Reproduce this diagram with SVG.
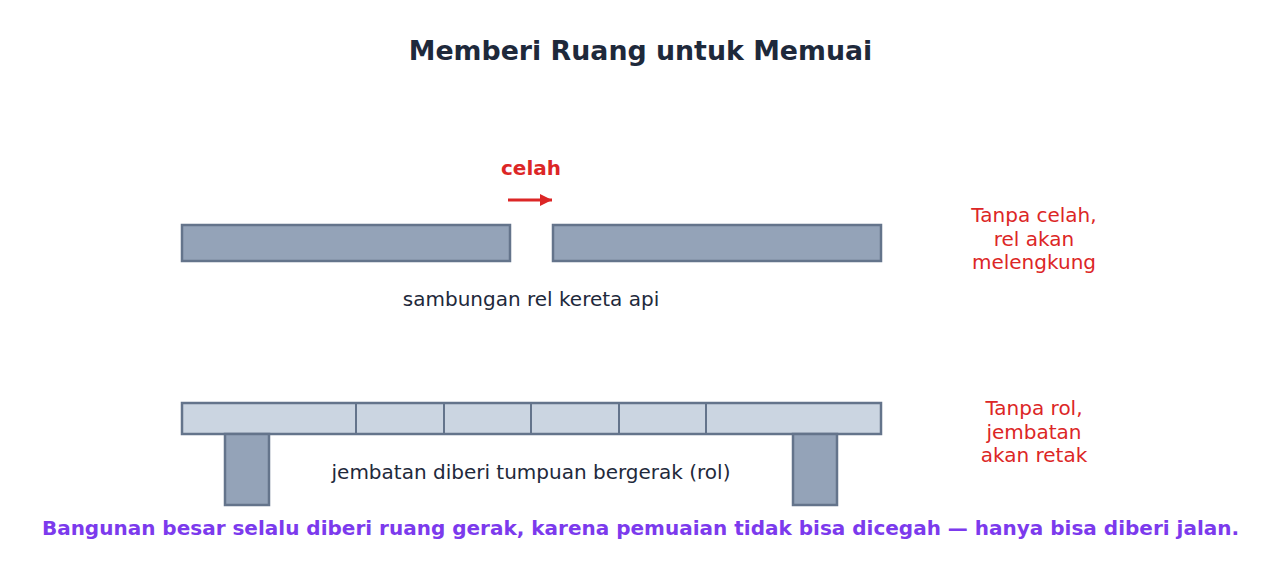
<svg xmlns="http://www.w3.org/2000/svg" width="1281" height="583" viewBox="0 0 1281 583">
<style>
text{font-family:"DejaVu Sans","Liberation Sans",sans-serif;}
.title{font-size:26.8px;font-weight:bold;fill:#1e293b;text-anchor:middle;}
.lbl{font-size:20px;fill:#1e293b;text-anchor:middle;}
.warn{font-size:20px;fill:#dc2626;text-anchor:middle;}
.gap{font-size:20px;font-weight:bold;fill:#dc2626;text-anchor:middle;}
.foot{font-size:20px;font-weight:bold;fill:#7c3aed;text-anchor:middle;}
.rail{fill:#94a3b8;stroke:#64748b;stroke-width:2.5;}
.deck{fill:#cbd5e1;stroke:#64748b;stroke-width:2.5;}
.div{stroke:#64748b;stroke-width:2;}
</style>
<defs>
<marker id="ah" viewBox="0 0 10 10" refX="10" refY="5" markerWidth="4" markerHeight="4" orient="auto" markerUnits="strokeWidth">
<path d="M0,0 L10,5 L0,10 z" fill="#dc2626"/>
</marker>
</defs>
<rect width="1281" height="583" fill="#ffffff"/>
<text class="title" x="640.5" y="60">Memberi Ruang untuk Memuai</text>
<g id="rail-left"><rect class="rail" x="182" y="225" width="328" height="36"/></g>
<g id="rail-right"><rect class="rail" x="553" y="225" width="328" height="36"/></g>
<g id="gap-label"><text class="gap" x="531" y="175">celah</text></g>
<g id="connectors">
<line x1="508" y1="200" x2="552" y2="200" stroke="#dc2626" stroke-width="3" marker-end="url(#ah)"/>
</g>
<g id="rail-caption"><text class="lbl" x="531" y="306">sambungan rel kereta api</text></g>
<g id="rail-warning">
<text class="warn" x="1034" y="222">Tanpa celah,</text>
<text class="warn" x="1034" y="246">rel akan</text>
<text class="warn" x="1034" y="269">melengkung</text>
</g>
<g id="bridge-deck">
<rect class="deck" x="182" y="403" width="699" height="31"/>
<line class="div" x1="356" y1="403" x2="356" y2="434"/>
<line class="div" x1="444" y1="403" x2="444" y2="434"/>
<line class="div" x1="531" y1="403" x2="531" y2="434"/>
<line class="div" x1="619" y1="403" x2="619" y2="434"/>
<line class="div" x1="706" y1="403" x2="706" y2="434"/>
</g>
<g id="pier-left"><rect class="rail" x="225" y="434" width="44" height="71"/></g>
<g id="pier-right"><rect class="rail" x="793" y="434" width="44" height="71"/></g>
<g id="bridge-caption"><text class="lbl" x="531" y="479">jembatan diberi tumpuan bergerak (rol)</text></g>
<g id="bridge-warning">
<text class="warn" x="1034" y="415">Tanpa rol,</text>
<text class="warn" x="1034" y="439">jembatan</text>
<text class="warn" x="1034" y="462">akan retak</text>
</g>
<g id="footer"><text class="foot" x="640.5" y="535">Bangunan besar selalu diberi ruang gerak, karena pemuaian tidak bisa dicegah — hanya bisa diberi jalan.</text></g>
</svg>
